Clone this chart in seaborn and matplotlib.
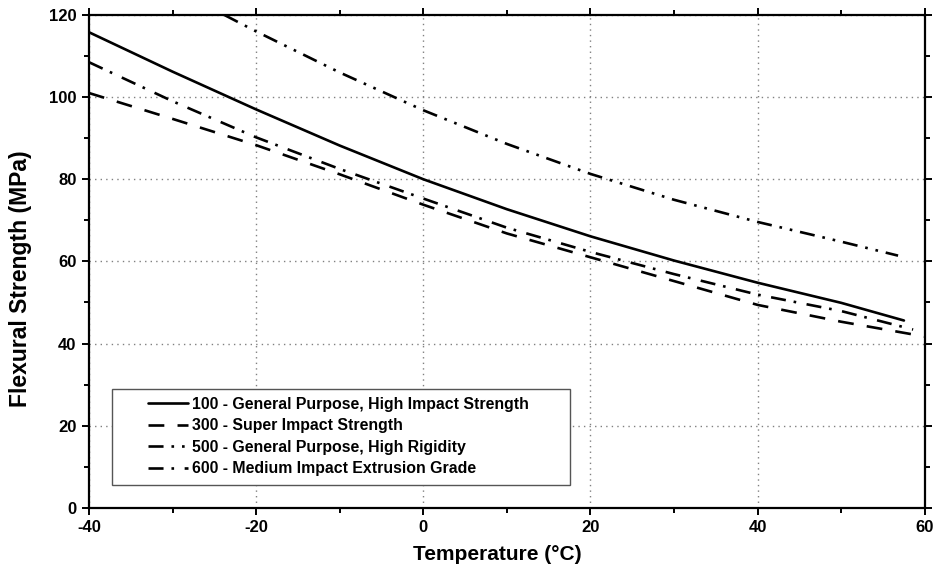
import matplotlib
matplotlib.use("Agg")
import pandas as pd
import matplotlib.pyplot as plt
from matplotlib.patches import Rectangle
from matplotlib.ticker import MultipleLocator
import seaborn as sns

# ======== valores ========
temp_100 = [-40, -30, -20, -10, 0, 10, 20, 30, 40, 50, 57.5]
flex_100 = [115.8, 106.2, 97.0, 88.2, 80.0, 72.7, 66.1, 60.2, 54.8, 49.9, 45.6]

temp_300 = [-40, -30, -20, -10, 0, 10, 20, 30, 40, 50, 60]
flex_300 = [101.0, 94.7, 88.3, 81.2, 73.8, 66.8, 61.0, 55.2, 49.4, 45.3, 41.7]

temp_500 = [-23.8, -20, -10, 0, 10, 20, 30, 40, 50, 56.8]
flex_500 = [120.0, 116.0, 106.0, 96.8, 88.6, 81.3, 75.0, 69.6, 64.8, 61.4]

temp_600 = [-40, -30, -20, -10, 0, 10, 20, 30, 40, 50, 58.6]
flex_600 = [108.5, 99.0, 90.2, 82.5, 75.3, 68.2, 62.3, 56.9, 51.9, 47.9, 43.4]

grades = [
    "100 - General Purpose, High Impact Strength",
    "300 - Super Impact Strength",
    "500 - General Purpose, High Rigidity",
    "600 - Medium Impact Extrusion Grade",
]
x_ticks = [-40, -20, 0, 20, 40, 60]
y_ticks = [0, 20, 40, 60, 80, 100, 120]
# =============================================

frames = []
for name, t, f in zip(grades,
                      [temp_100, temp_300, temp_500, temp_600],
                      [flex_100, flex_300, flex_500, flex_600]):
    frames.append(pd.DataFrame({"temp": t, "flex": f, "grade": name}))
df = pd.concat(frames, ignore_index=True)

sns.set_theme(style="white")
plt.rcParams["font.family"] = ["Liberation Sans", "DejaVu Sans"]
plt.rcParams["font.weight"] = "bold"
plt.rcParams["axes.unicode_minus"] = False
for k in ["text.color", "axes.labelcolor", "xtick.color", "ytick.color"]:
    plt.rcParams[k] = "black"

fig = plt.figure(figsize=(9.37, 5.77), dpi=100)
ax = fig.add_axes([0.095, 0.12, 0.892, 0.854])

# patrones en unidades de grosor de linea
dash_map = {
    grades[0]: "",
    grades[1]: (6, 5),
    grades[2]: (5.7, 3, 1, 3, 1, 3),
    grades[3]: (5.7, 3, 1, 4),
}
sns.lineplot(data=df, x="temp", y="flex", hue="grade", style="grade",
             hue_order=grades, style_order=grades,
             palette=["black"] * 4, dashes=dash_map,
             estimator=None, sort=False, linewidth=1.9, legend=False, ax=ax)

ax.set_xlim(-40, 60)
ax.set_ylim(0, 120)
ax.set_xticks(x_ticks)
ax.set_yticks(y_ticks)
ax.xaxis.set_minor_locator(MultipleLocator(10))
ax.yaxis.set_minor_locator(MultipleLocator(10))
ax.tick_params(which="both", direction="out", top=True, right=True,
               bottom=True, left=True, width=1.4, color="black")
ax.tick_params(which="major", length=5)
ax.tick_params(which="minor", length=3.3)
ax.tick_params(axis="x", labelsize=12, pad=3.5)
ax.tick_params(axis="y", labelsize=12, pad=4)
for lab in ax.get_xticklabels() + ax.get_yticklabels():
    lab.set_fontweight("bold")

for s in ax.spines.values():
    s.set_visible(True)
    s.set_color("black")
    s.set_linewidth(1.6)

ax.set_axisbelow(True)
ax.grid(True, which="major", color="#808080", linestyle=(0, (1, 3)), linewidth=1.0)

ax.set_xlabel("Temperature (°C)", fontsize=15, fontweight="bold", va="top")
ax.set_ylabel("Flexural Strength (MPa)", fontsize=16.5, fontweight="bold")
ax.xaxis.set_label_coords(0.488, -0.076)
ax.yaxis.set_label_coords(-0.068, 0.465)

# caja de la leyenda (dibujada aparte para controlar el margen)
box = Rectangle((0.0275, 0.0467), 0.5475, 0.194, transform=ax.transAxes,
                facecolor="white", edgecolor="#555555", linewidth=1.0, zorder=1.5)
ax.add_patch(box)

leg = ax.legend(handles=ax.lines[:4], labels=grades, loc="upper left",
                bbox_to_anchor=(0.0706, 0.225), frameon=False,
                borderpad=0, borderaxespad=0, handlelength=2.5,
                handletextpad=0.3, labelspacing=0.41,
                prop={"size": 11.4, "weight": "bold"})
leg.set_zorder(5)

fig.savefig("out.png", dpi=100)
